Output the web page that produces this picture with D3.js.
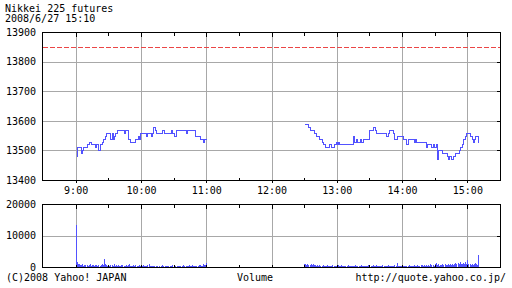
<!DOCTYPE html>
<html>
<head>
<meta charset="utf-8">
<script src="https://cdn.jsdelivr.net/npm/d3@7"></script>
<style>
  body { margin: 0; background: #fff; }
  svg { display: block; }
  text { font-family: 'DejaVu Sans Mono', monospace; font-size: 10px; fill: #000; }
</style>
</head>
<body>
<div class="chart"></div>
<script>
'use strict';

const TITLE = 'Nikkei 225 futures';
const STAMP = '2008/6/27 15:10';
const PREV_CLOSE = 13850;

const priceTicks = [13400, 13500, 13600, 13700, 13800, 13900];
const volTicks = [0, 10000, 20000];
const hourTicks = ['9:00', '10:00', '11:00', '12:00', '13:00', '14:00', '15:00'];
const halfTicks = ['9:30', '10:30', '11:30', '12:30', '13:30', '14:30'];

// price changes, morning session
const amTimes = ['9:00', '9:01', '9:05', '9:06', '9:07', '9:10', '9:12', '9:14', '9:18', '9:19',
  '9:21', '9:22', '9:24', '9:25', '9:27', '9:28', '9:32', '9:33', '9:34', '9:35',
  '9:36', '9:38', '9:44', '9:45', '9:48', '9:50', '9:55', '9:57', '9:58', '9:59',
  '10:05', '10:06', '10:09', '10:10', '10:11', '10:13', '10:14', '10:19', '10:21', '10:28',
  '10:29', '10:30', '10:32', '10:41', '10:42', '10:50', '10:54', '10:57', '10:58', '11:00'];
const amPrices = [13480, 13510, 13490, 13500, 13510, 13520, 13530, 13520, 13510, 13520,
  13500, 13520, 13530, 13540, 13550, 13560, 13540, 13560, 13540, 13550,
  13560, 13570, 13560, 13570, 13540, 13530, 13540, 13550, 13540, 13560,
  13550, 13560, 13550, 13560, 13580, 13570, 13560, 13570, 13560, 13570,
  13560, 13550, 13570, 13560, 13570, 13550, 13540, 13530, 13540, 13540];

// price changes, afternoon session
const pmTimes = ['12:30', '12:34', '12:35', '12:39', '12:41', '12:44', '12:46', '12:47', '12:49', '12:53',
  '12:55', '12:57', '12:59', '13:00', '13:01', '13:02', '13:15', '13:16', '13:18', '13:19',
  '13:21', '13:22', '13:24', '13:30', '13:33', '13:35', '13:36', '13:45', '13:47', '13:48',
  '13:52', '13:53', '13:55', '14:01', '14:04', '14:05', '14:11', '14:12', '14:13', '14:22',
  '14:23', '14:27', '14:28', '14:29', '14:31', '14:32', '14:33', '14:37', '14:41', '14:42',
  '14:43', '14:45', '14:47', '14:49', '14:52', '14:53', '14:55', '14:56', '14:58', '14:59',
  '15:02', '15:04', '15:05', '15:06', '15:07', '15:10'];
const pmPrices = [13590, 13580, 13570, 13560, 13550, 13540, 13530, 13520, 13510, 13520,
  13510, 13520, 13530, 13520, 13530, 13520, 13550, 13530, 13540, 13530,
  13540, 13530, 13540, 13570, 13580, 13570, 13560, 13550, 13560, 13570,
  13560, 13540, 13550, 13540, 13520, 13540, 13530, 13540, 13530, 13510,
  13520, 13510, 13520, 13510, 13520, 13470, 13500, 13490, 13480, 13470,
  13480, 13470, 13480, 13490, 13500, 13510, 13520, 13540, 13550, 13560,
  13550, 13540, 13530, 13540, 13550, 13530];

// volume per minute, from 9:00 and from 12:30
const amVolStart = '9:00';
const amVolume = [13200, 1700, 800, 1100, 500, 700, 900, 400, 600, 500,
  700, 400, 500, 800, 300, 600, 500, 400, 700, 500,
  300, 600, 400, 500, 800, 600, 2500, 900, 500, 400,
  700, 300, 500, 600, 400, 800, 300, 500, 200, 600,
  400, 300, 700, 500, 200, 400, 600, 300, 500, 800,
  200, 400, 300, 500, 200, 600, 300, 200, 500, 400,
  300, 200, 600, 400, 200, 300, 500, 900, 300, 200,
  400, 200, 300, 100, 200, 400, 100, 200, 300, 500,
  200, 100, 300, 200, 400, 200, 100, 300, 200, 600,
  300, 200, 100, 300, 200, 400, 300, 100, 200, 500,
  300, 200, 400, 300, 600, 200, 300, 500, 400, 300,
  200, 400, 300, 700, 500, 400, 300, 900, 600, 700, 1300];
const pmVolStart = '12:30';
const pmVolume = [1100, 800, 600, 900, 700, 500, 800, 600, 900, 500,
  700, 400, 600, 300, 500, 400, 300, 600, 200, 400,
  300, 500, 200, 400, 300, 200, 500, 300, 200, 400,
  300, 600, 200, 300, 500, 200, 400, 300, 200, 300,
  500, 200, 300, 200, 400, 300, 200, 500, 300, 200,
  400, 300, 600, 200, 300, 200, 400, 300, 200, 500,
  300, 200, 400, 700, 300, 200, 500, 300, 200, 400,
  300, 200, 500, 300, 200, 400, 300, 600, 200, 300,
  200, 400, 300, 500, 200, 1300, 300, 400, 300, 200,
  500, 300, 200, 400, 300, 200, 500, 300, 400, 200,
  300, 500, 400, 300, 600, 400, 300, 500, 700, 400,
  600, 400, 500, 300, 600, 400, 800, 500, 700, 400,
  900, 1400, 500, 800, 400, 700, 500, 900, 600, 800,
  500, 700, 1000, 600, 800, 500, 1100, 700, 900, 1400,
  800, 1200, 900, 1500, 1000, 1100, 1200, 900, 1600, 1000,
  2100, 800, 1100, 700, 1000, 600, 900, 1200, 800, 700,
  3800];

const WIDTH = 512;
const HEIGHT = 288;
const BLUE = '#5252ff';
const GRID = '#a8a8a8';

const parseT = d3.timeParse('%H:%M');
const fmtT = d3.timeFormat('%-H:%M');

const svg = d3.select('.chart')
  .append('svg')
    .attr('width', WIDTH)
    .attr('height', HEIGHT);

const x = d3.scaleTime()
    .domain([parseT('8:30'), parseT('15:30')])
    .range([43, 500]);
const y = d3.scaleLinear().domain([13400, 13900]).range([180, 32]);
const yv = d3.scaleLinear().domain([0, 20000]).range([267, 204]);

const px = (t) => Math.round(x(t)) + 0.5;

function panel(ys, ticks, top, bottom, left, right) {
  const g = svg.append('g').attr('shape-rendering', 'crispEdges');
  const py = (v) => Math.round(ys(v)) + 0.5;

  g.selectAll('.vgrid')
    .data(hourTicks.map(parseT))
    .enter().append('line')
      .attr('x1', px).attr('x2', px)
      .attr('y1', top).attr('y2', bottom)
      .attr('stroke', GRID);

  g.selectAll('.hgrid')
    .data(ticks)
    .enter().append('line')
      .attr('x1', left).attr('x2', right)
      .attr('y1', py).attr('y2', py)
      .attr('stroke', GRID);

  return {g, py};
}

function frame(g, py, ticks, top, bottom, left, right, bottomOut) {
  // half-hour ticks, top and bottom, inside
  halfTicks.map(parseT).forEach((t) => {
    g.append('line').attr('x1', px(t)).attr('x2', px(t))
      .attr('y1', top).attr('y2', top + 3).attr('stroke', '#000');
    g.append('line').attr('x1', px(t)).attr('x2', px(t))
      .attr('y1', bottom).attr('y2', bottom - 3).attr('stroke', '#000');
  });
  hourTicks.map(parseT).forEach((t) => {
    g.append('line').attr('x1', px(t)).attr('x2', px(t))
      .attr('y1', top).attr('y2', top + 4).attr('stroke', '#000');
    if (bottomOut) {
      g.append('line').attr('x1', px(t)).attr('x2', px(t))
        .attr('y1', bottom).attr('y2', bottom + 2).attr('stroke', '#000');
    } else {
      g.append('line').attr('x1', px(t)).attr('x2', px(t))
        .attr('y1', bottom).attr('y2', bottom - 3).attr('stroke', '#000');
    }
  });
  ticks.forEach((v) => {
    g.append('line').attr('x1', right).attr('x2', right - 4)
      .attr('y1', py(v)).attr('y2', py(v)).attr('stroke', '#000');
  });
  g.append('rect')
    .attr('x', left).attr('y', top)
    .attr('width', right - left).attr('height', bottom - top)
    .attr('fill', 'none').attr('stroke', '#000');
}

// ---- price panel
const P = panel(y, priceTicks, 32.5, 180.5, 42.5, 500.5);

svg.append('path')
  .attr('d', d3.line()([[43, P.py(PREV_CLOSE)], [500, P.py(PREV_CLOSE)]]))
  .attr('fill', 'none')
  .attr('stroke', 'rgb(235,70,70)')
  .attr('stroke-width', 1)
  .attr('stroke-dasharray', '5 2');

const priceLine = d3.line()
    .x((d) => px(d.t))
    .y((d) => P.py(d.p))
    .curve(d3.curveStepAfter);

[[amTimes, amPrices], [pmTimes, pmPrices]].forEach(([ts, ps]) => {
  const rows = ts.map((t, i) => ({t: parseT(t), p: ps[i]}));
  svg.append('path')
    .datum(rows)
    .attr('d', priceLine)
    .attr('fill', 'none')
    .attr('stroke', BLUE)
    .attr('stroke-width', 1)
    .attr('shape-rendering', 'crispEdges');
});

const pFrame = svg.append('g').attr('shape-rendering', 'crispEdges');
frame(pFrame, P.py, priceTicks, 32.5, 180.5, 42.5, 500.5, true);

// ---- volume panel
const V = panel(yv, volTicks, 204.5, 267.5, 42.5, 500.5);

[[amVolStart, amVolume], [pmVolStart, pmVolume]].forEach(([start, vols]) => {
  const t0 = parseT(start);
  svg.append('g')
    .attr('shape-rendering', 'crispEdges')
    .selectAll('rect')
    .data(vols.map((v, i) => ({t: d3.timeMinute.offset(t0, i), v})))
    .enter().append('rect')
      .attr('x', (d) => Math.round(x(d.t)))
      .attr('width', 1)
      .attr('y', (d) => Math.round(yv(d.v)))
      .attr('height', (d) => 267 - Math.round(yv(d.v)))
      .attr('fill', BLUE);
});

const vFrame = svg.append('g').attr('shape-rendering', 'crispEdges');
frame(vFrame, V.py, [10000], 204.5, 267.5, 42.5, 500.5, false);

// ---- axis labels
function styleAxis(g) {
  g.select('.domain').remove();
  g.selectAll('line').remove();
  g.attr('font-family', null).attr('font-size', null);
  g.selectAll('text').attr('fill', '#000');
}

svg.append('g')
  .attr('transform', 'translate(42,0)')
  .call(d3.axisLeft(y).tickValues(priceTicks).tickFormat(d3.format('d')).tickSize(0).tickPadding(6))
  .call(styleAxis);

svg.append('g')
  .attr('transform', 'translate(42,0)')
  .call(d3.axisLeft(yv).tickValues(volTicks).tickFormat(d3.format('d')).tickSize(0).tickPadding(6))
  .call(styleAxis);

svg.append('g')
  .attr('transform', 'translate(0,180)')
  .call(d3.axisBottom(x).tickValues(hourTicks.map(parseT)).tickFormat(fmtT).tickSize(0).tickPadding(7))
  .call(styleAxis);

// ---- texts
svg.append('text').attr('x', 5).attr('y', 12).text(TITLE);
svg.append('text').attr('x', 5).attr('y', 22).text(STAMP);
svg.append('text').attr('x', 6).attr('y', 281).text('(C)2008 Yahoo! JAPAN');
svg.append('text').attr('x', 255).attr('y', 281).attr('text-anchor', 'middle').text('Volume');
svg.append('text').attr('x', 506).attr('y', 281).attr('text-anchor', 'end').text('http://quote.yahoo.co.jp/');
</script>
</body>
</html>
